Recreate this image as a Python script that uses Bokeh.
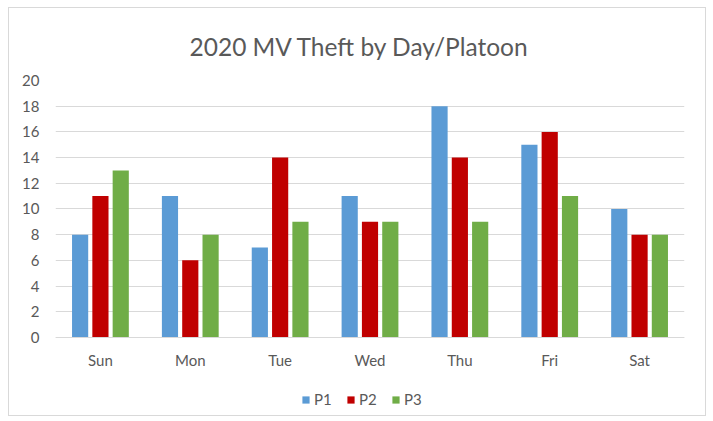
from bokeh.plotting import figure
from bokeh.models import ColumnDataSource, FactorRange, Legend, LegendItem
from bokeh.transform import dodge
from bokeh.embed import file_html
from bokeh.resources import INLINE

days = ["Sun", "Mon", "Tue", "Wed", "Thu", "Fri", "Sat"]
p1 = [8, 11, 7, 11, 18, 15, 10]
p2 = [11, 6, 14, 9, 14, 16, 8]
p3 = [13, 8, 9, 9, 9, 11, 8]
y_ticks = list(range(0, 21, 2))

src = ColumnDataSource(dict(day=days, p1=p1, p2=p2, p3=p3))

FONT = "Lato"
TXT = "#595959"
GRID = "#D9D9D9"

p = figure(x_range=FactorRange(*days), y_range=(-6, 20), width=696, height=407,
           output_backend="svg", toolbar_location=None,
           min_border_left=46, min_border_right=21, min_border_top=72, min_border_bottom=1,
           styles={"outline": "1px solid #D9D9D9", "margin-left": "9px", "margin-top": "8px"})
p.x_range.range_padding = 0
p.outline_line_color = None

p.title.text = "2020 MV Theft by Day/Platoon"
p.title.align = "left"
p.title.offset = 134
p.title.standoff = 39
p.title.text_font = FONT
p.title.text_font_size = "24.5px"
p.title.text_font_style = "normal"
p.title.text_color = TXT

bw = 0.18
r1 = p.vbar(x=dodge("day", -0.226, range=p.x_range), top="p1", width=bw, source=src,
            fill_color="#5B9BD5", line_color=None)
r2 = p.vbar(x=dodge("day", 0.0, range=p.x_range), top="p2", width=bw, source=src,
            fill_color="#C00000", line_color=None)
r3 = p.vbar(x=dodge("day", 0.226, range=p.x_range), top="p3", width=bw, source=src,
            fill_color="#70AD47", line_color=None)

p.yaxis.ticker = y_ticks
p.yaxis.axis_line_color = None
p.yaxis.major_tick_line_color = None
p.yaxis.minor_tick_line_color = None
p.yaxis.major_label_standoff = 10
p.yaxis.major_label_text_font = FONT
p.yaxis.major_label_text_font_size = "15px"
p.yaxis.major_label_text_color = TXT

p.xaxis.fixed_location = 0
p.xaxis.axis_line_color = GRID
p.xaxis.major_tick_line_color = None
p.xaxis.minor_tick_line_color = None
p.xaxis.major_label_standoff = 8
p.xaxis.major_label_text_font = FONT
p.xaxis.major_label_text_font_size = "15px"
p.xaxis.major_label_text_color = TXT

p.xgrid.grid_line_color = None
p.ygrid.grid_line_color = GRID
p.ygrid.ticker = y_ticks

legend = Legend(items=[LegendItem(label="P1", renderers=[r1]),
                       LegendItem(label="P2", renderers=[r2]),
                       LegendItem(label="P3", renderers=[r3])],
                orientation="horizontal", location=(246, 6),
                glyph_width=9, glyph_height=9, label_standoff=4, spacing=12,
                label_text_font=FONT, label_text_font_size="15px", label_text_color=TXT,
                border_line_color=None, background_fill_alpha=0, padding=6, margin=0)
p.add_layout(legend)

open("out.html", "w").write(file_html(p, INLINE))
